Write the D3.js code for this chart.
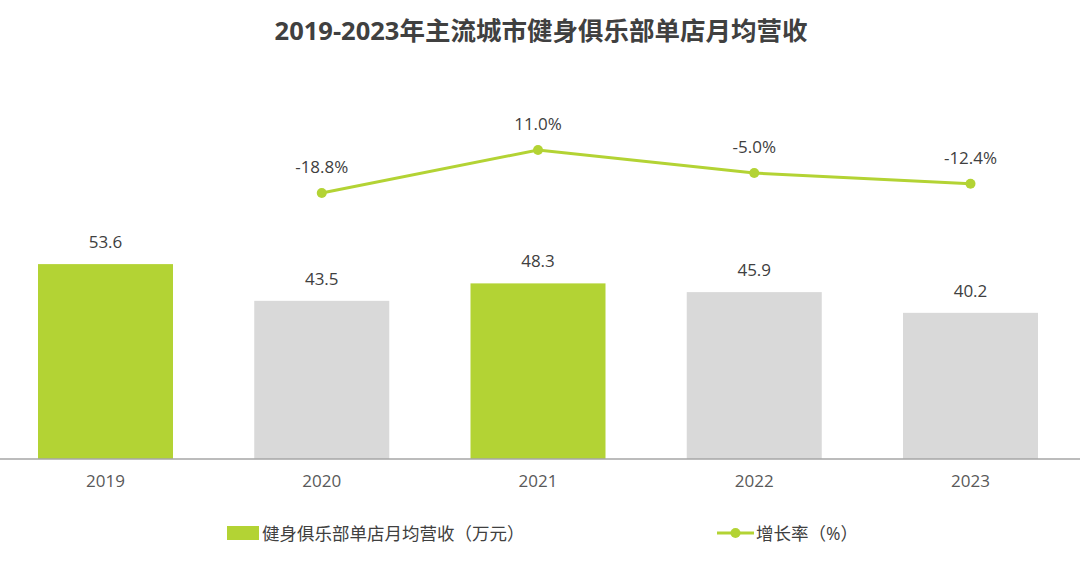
<!DOCTYPE html>
<html><head><meta charset="utf-8">
<script src="https://cdn.jsdelivr.net/npm/d3@7"></script>
<style>body{margin:0;background:#fff}svg{display:block}</style>
</head><body>
<svg id="c" width="1080" height="562"></svg>
<script>
const years = ["2019","2020","2021","2022","2023"];
const revenue = [53.6, 43.5, 48.3, 45.9, 40.2];
const growthYears = ["2020","2021","2022","2023"];
const growth = [-18.8, 11.0, -5.0, -12.4];
const barColors = ["#b3d334","#d9d9d9","#b3d334","#d9d9d9","#d9d9d9"];
const title = "2019-2023年主流城市健身俱乐部单店月均营收";
const legendBar = "健身俱乐部单店月均营收（万元）";
const legendLine = "增长率（%）";

const font = "'Open Sans','Noto Sans CJK SC',sans-serif";
const svg = d3.select("#c");
const W = 1080;
const x = d3.scaleBand().domain(years).range([-2, 1078]).paddingInner(0.3757).paddingOuter(0.185);
const y = d3.scaleLinear().domain([0, 60]).range([459, 459 - 60*3.636]);
const y2 = d3.scaleLinear().domain([-20, 15]).range([150 + 31*1.443, 150 - 4*1.443]);

svg.append("text").attr("x", 541).attr("y", 40).attr("text-anchor","middle")
  .attr("font-family", font).attr("font-weight","bold")
  .attr("font-size", 25.5).attr("fill","#404040").text(title);

svg.selectAll("rect.bar").data(revenue).join("rect").attr("class","bar")
  .attr("x",(d,i)=>x(years[i])).attr("width",x.bandwidth())
  .attr("y",d=>y(d)).attr("height",d=>y(0)-y(d)).attr("fill",(d,i)=>barColors[i]);

svg.selectAll("text.bl").data(revenue).join("text").attr("class","bl")
  .attr("x",(d,i)=>x(years[i])+x.bandwidth()/2).attr("y",d=>y(d)-16)
  .attr("text-anchor","middle").attr("font-family",font).attr("font-size",17).attr("fill","#404040")
  .text(d=>d.toFixed(1));

const axis = d3.axisBottom(x).tickSize(0).tickPadding(16);
const ag = svg.append("g").attr("transform","translate(0,459)").call(axis);
ag.select(".domain").remove();
ag.append("line").attr("x1",0).attr("x2",W).attr("stroke","#a6a6a6").attr("stroke-width",1.5);
ag.selectAll("text").attr("font-family",font).attr("font-size",17).attr("fill","#595959");

const cx = d => x(d)+x.bandwidth()/2;
const line = d3.line().x((d,i)=>cx(growthYears[i])).y(d=>y2(d));
svg.append("path").datum(growth).attr("d",line).attr("fill","none").attr("stroke","#b3d334").attr("stroke-width",3);
svg.selectAll("circle.pt").data(growth).join("circle").attr("class","pt")
  .attr("cx",(d,i)=>cx(growthYears[i])).attr("cy",d=>y2(d)).attr("r",5).attr("fill","#b3d334");
svg.selectAll("text.gl").data(growth).join("text").attr("class","gl")
  .attr("x",(d,i)=>cx(growthYears[i])).attr("y",d=>y2(d)-20)
  .attr("text-anchor","middle").attr("font-family",font).attr("font-size",17).attr("fill","#404040")
  .text(d=>d.toFixed(1)+"%");

// legend
const lg = svg.append("g");
lg.append("rect").attr("x",227).attr("y",526).attr("width",32).attr("height",14).attr("fill","#b3d334");
lg.append("text").attr("x",262).attr("y",539.5).attr("font-family",font).attr("font-size",17.5).attr("fill","#404040").text(legendBar);
lg.append("line").attr("x1",717).attr("x2",754).attr("y1",533).attr("y2",533).attr("stroke","#b3d334").attr("stroke-width",3);
lg.append("circle").attr("cx",735.5).attr("cy",533).attr("r",5).attr("fill","#b3d334");
lg.append("text").attr("x",756).attr("y",539.5).attr("font-family",font).attr("font-size",17.5).attr("fill","#404040").text(legendLine);
</script>
</body></html>
